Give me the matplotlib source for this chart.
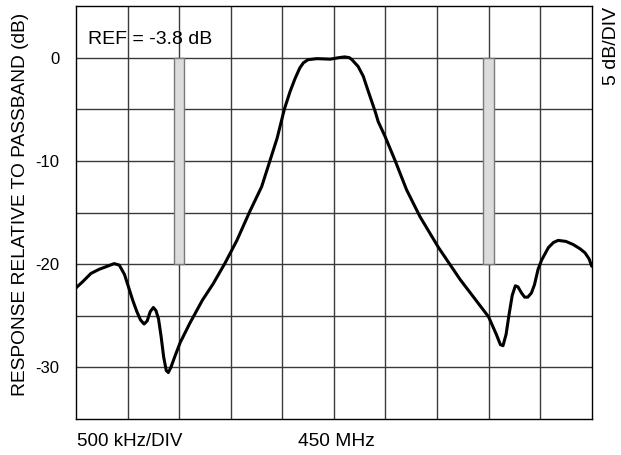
import numpy as np
import matplotlib
matplotlib.use("Agg")
import matplotlib.pyplot as plt
import matplotlib.transforms as mtransforms

plt.rcParams['font.family'] = ['Liberation Sans', 'DejaVu Sans']

# Filter response (x in divisions, 500 kHz/div, centre 450 MHz)
freq_div = [0.00, 0.13, 0.29, 0.45, 0.61, 0.74, 0.84, 0.94, 1.03, 1.10,
            1.18, 1.25, 1.32, 1.38, 1.44, 1.50, 1.55, 1.60, 1.65, 1.70,
            1.75, 1.79, 1.84, 1.92, 2.02, 2.21, 2.45, 2.66, 2.89, 3.12,
            3.37, 3.60, 3.76, 3.90, 4.04, 4.15, 4.25, 4.34, 4.41, 4.50,
            4.67, 4.93, 5.10, 5.21, 5.30, 5.35, 5.47, 5.57, 5.67, 5.80,
            5.86, 5.99, 6.19, 6.41, 6.67, 7.03, 7.45, 8.00, 8.15, 8.23,
            8.28, 8.34, 8.40, 8.46, 8.52, 8.57, 8.64, 8.70, 8.76, 8.83,
            8.89, 8.96, 9.03, 9.16, 9.26, 9.35, 9.50, 9.64, 9.77, 9.87,
            9.95, 10.00]
resp_db = [-22.3, -21.7, -20.9, -20.5, -20.2, -19.95, -20.1, -21.0, -22.4, -23.5,
           -24.6, -25.4, -25.8, -25.5, -24.6, -24.2, -24.5, -25.3, -27.0, -29.0,
           -30.3, -30.5, -30.0, -28.9, -27.6, -25.7, -23.5, -21.9, -19.9, -17.7,
           -14.9, -12.5, -10.0, -7.8, -5.0, -3.3, -2.0, -1.0, -0.5, -0.2,
           -0.1, -0.15, 0.0, 0.07, 0.0, -0.2, -0.85, -1.8, -3.3, -5.2,
           -6.2, -7.6, -10.0, -12.8, -15.4, -18.4, -21.5, -25.1, -26.8, -27.8,
           -27.9, -26.8, -24.8, -23.0, -22.1, -22.2, -22.8, -23.2, -23.2, -22.8,
           -22.0, -20.5, -19.6, -18.4, -17.9, -17.7, -17.8, -18.1, -18.5, -18.9,
           -19.5, -20.2]

# Gray marker bars (rejection band edges)
bar_div = [2.0, 8.0]
bar_top = 0
bar_bottom = -20

y_ticks = [0, -10, -20, -30]

fig = plt.figure(figsize=(6.21, 4.55), dpi=100)
ax = fig.add_axes([76 / 621, 36 / 455, 515.7 / 621, 413 / 455])

ax.set_xlim(0, 10)
ax.set_ylim(-35, 5)

# grid
for xv in np.arange(1, 10):
    ax.axvline(xv, color="#3a3a3a", lw=1.0, zorder=1)
for yv in np.arange(-30, 5, 5):
    ax.axhline(yv, color="#3a3a3a", lw=1.0, zorder=1)

# marker bars
for bx in bar_div:
    ax.bar(bx, bar_top - bar_bottom, bottom=bar_bottom, width=0.2,
           color="#dcdcdc", edgecolor="#7a7a7a", linewidth=1.0, zorder=2)

ax.plot(freq_div, resp_db, color="black", lw=2.2, zorder=3,
        solid_joinstyle="round", solid_capstyle="round")

ax.set_xticks([])
ax.set_yticks(y_ticks)
ax.set_yticklabels([str(v) for v in y_ticks], fontsize=12)
ax.tick_params(axis="y", length=0, pad=12)
for s in ax.spines.values():
    s.set_color("black")
    s.set_linewidth(1.0)

ax.set_ylabel("RESPONSE RELATIVE TO PASSBAND (dB)", fontsize=13.8)
ax.yaxis.set_label_coords(-47 / 515.7, 0.52)

ax.text(0.23, 1.75, "REF = -3.8 dB", fontsize=14, ha="left", va="center", zorder=4)

trans = mtransforms.blended_transform_factory(ax.transData, fig.transFigure)
ax.text(0.02, 13.5 / 455, "500 kHz/DIV", fontsize=13.5, ha="left", va="center",
        transform=trans)
ax.text(5.05, 13.5 / 455, "450 MHz", fontsize=13.8, ha="center", va="center",
        transform=trans)

fig.text(0.998, 0.985, "5 dB/DIV", fontsize=14, rotation=90, ha="right", va="top")

fig.savefig("out.png", dpi=100, facecolor="white")
